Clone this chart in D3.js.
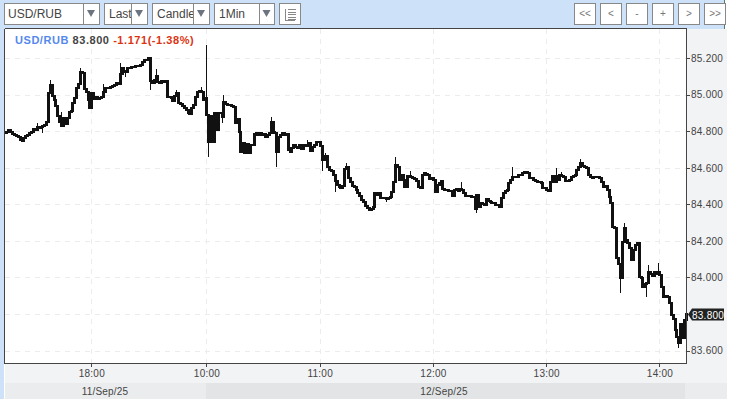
<!DOCTYPE html>
<html><head><meta charset="utf-8">
<script src="https://cdn.jsdelivr.net/npm/d3@7"></script>
<style>html,body{margin:0;padding:0;background:#fff;overflow:hidden}svg{display:block}</style>
</head><body><svg id="c" width="733" height="405"></svg>
<script>
const closes = [
84.795,84.806,84.795,84.784,84.779,84.773,84.768,84.751,84.746,84.762,
84.773,84.779,84.790,84.795,84.812,84.806,84.823,84.817,84.823,84.828,
84.834,84.850,85.009,85.052,84.992,84.970,84.937,84.883,84.850,84.828,
84.872,84.839,84.872,84.905,84.910,84.954,84.981,85.036,85.058,85.123,
85.118,85.030,85.014,84.970,84.926,85.009,84.976,84.987,84.976,84.981,
84.987,85.014,85.036,85.036,85.036,85.041,85.047,85.052,85.063,85.058,
85.112,85.145,85.129,85.123,85.145,85.145,85.151,85.151,85.156,85.156,
85.156,85.162,85.178,85.189,85.189,85.200,85.074,85.063,85.080,85.102,
85.069,85.063,85.074,85.069,85.074,84.987,84.987,84.981,84.965,84.992,
85.009,84.954,84.948,84.937,84.926,84.916,84.899,84.894,84.926,84.943,
84.987,85.014,85.019,85.014,84.970,84.981,
84.888,84.741,84.883,84.741,84.899,84.806,84.899,84.899,84.877,84.959,
84.948,84.943,84.943,84.937,84.932,84.844,84.866,84.795,84.686,84.735,
84.680,84.730,84.680,84.724,84.724,84.784,84.790,84.779,84.790,84.779,
84.784,84.768,84.779,84.790,84.850,84.795,84.790,84.686,84.768,84.779,
84.790,84.779,84.784,84.697,84.686,84.708,84.724,84.713,84.708,84.724,
84.702,84.724,84.719,84.719,84.735,84.691,84.713,84.724,84.741,84.741,
84.719,84.642,84.658,84.664,84.604,84.587,84.582,84.560,84.527,84.505,
84.494,84.489,84.500,84.593,84.604,84.544,84.522,84.500,84.494,84.478,
84.462,84.445,84.423,84.412,84.390,84.380,84.369,84.374,84.385,84.462,
84.451,84.462,84.434,84.434,84.434,84.429,84.434,84.440,84.467,84.522,
84.615,84.604,84.533,84.560,84.533,84.494,84.555,84.555,84.549,84.544,
84.538,84.527,84.494,84.489,84.560,84.571,84.565,84.560,84.538,84.544,
84.533,84.467,84.505,84.516,84.527,84.483,84.478,84.478,84.472,84.472,
84.445,84.478,84.483,84.472,84.483,84.478,84.462,84.445,84.445,84.445,
84.440,84.440,84.374,84.451,84.385,84.407,84.401,84.396,84.429,84.418,
84.412,84.407,84.407,84.396,84.396,84.385,84.434,84.462,84.472,84.478,
84.516,84.533,84.549,84.549,84.549,84.560,84.560,84.571,84.576,84.576,
84.571,84.544,84.544,84.533,84.527,84.522,84.522,84.516,84.489,84.489,
84.478,84.472,84.522,84.555,84.522,84.555,84.533,84.560,84.555,84.549,
84.527,84.527,84.533,84.549,84.555,84.560,84.587,84.604,84.626,84.609,
84.604,84.598,84.560,84.549,84.544,84.549,84.549,84.549,84.544,84.522,
84.494,84.500,84.478,84.440,84.407,84.276,84.270,84.106,84.073,83.997,
84.194,84.270,84.204,84.188,84.161,84.095,84.150,84.177,84.188,84.002,
83.997,83.947,83.964,83.969,84.029,84.018,84.007,84.029,84.018,84.029,
84.013,83.947,83.893,83.898,83.893,83.860,83.794,83.772,83.712,83.674,
83.641,83.745,83.668,83.767,83.800];
const firstOpen = 84.790;
const wickHighBars = [1,16,23,29,39,51,60,79,90,103,106,115,140,159,169,180,206,214,241,268,291,294,304,327,335,340,345,360];
const wickHighVals = [84.812,84.844,85.080,84.905,85.145,85.058,85.173,85.140,85.025,85.041,85.271,84.998,84.877,84.752,84.680,84.626,84.658,84.582,84.522,84.604,84.598,84.576,84.647,84.297,84.030,84.068,84.079,83.827];
const wickLowBars = [19,63,76,107,114,143,167,174,201,210,249,325,339,356];
const wickLowVals = [84.790,85.096,85.025,84.658,84.844,84.604,84.582,84.467,84.412,84.489,84.352,83.914,83.893,83.614];
const priceTicks = [85.2,85.0,84.8,84.6,84.4,84.2,84.0,83.6];
const timeTickBars = [45,106,166,226,286,346];
const timeTickLabels = ["18:00","10:00","11:00","12:00","13:00","14:00"];
const dateLabels = ["11/Sep/25","12/Sep/25"];
const selectLabels = ["USD/RUB","Last","Candle","1Min"];
const navLabels = ["<<","<","-","+",">",">>"];
const lastPrice = 83.800;

const svg = d3.select("#c");
const FONT = "'Liberation Sans',Arial,sans-serif";
const L=5,R=686,T=29,B=363;
const rect=(x,y,w,h,f,s)=>svg.append("rect").attr("x",x).attr("y",y).attr("width",w).attr("height",h).attr("fill",f).attr("stroke",s||"none").attr("shape-rendering","crispEdges");

rect(0,0,725,29,"#cde1f8");
rect(0,29,4,370,"#cde1f8");
rect(724,0,1,29,"#4f7f6a");
rect(5,364,722,19,"#f2f3f5");
rect(687,29,40,335,"#f2f3f5");
rect(5,383,722,16,"#ebecee");
rect(206,383,479,16,"#e3e4e6");
rect(L,T,R-L,B-T,"#fff");

const x=d3.scaleLinear().domain([0,360]).range([6.4,685.9]);
const y=d3.scaleLinear().domain([83.6,85.2]).range([350.5,58]);

// grid
const gridG=svg.append("g").attr("stroke","#ececec").attr("stroke-dasharray","5,5").attr("shape-rendering","crispEdges");
[...priceTicks,lastPrice].forEach(p=>gridG.append("line").attr("x1",L).attr("x2",R).attr("y1",Math.round(y(p))+.5).attr("y2",Math.round(y(p))+.5));
timeTickBars.forEach(b=>gridG.append("line").attr("y1",T).attr("y2",B).attr("x1",Math.round(x(b))+.5).attr("x2",Math.round(x(b))+.5));

// candles
const wh=new Map(wickHighBars.map((b,i)=>[b,wickHighVals[i]]));
const wl=new Map(wickLowBars.map((b,i)=>[b,wickLowVals[i]]));
const bars=closes.map((c,i)=>{const o=i?closes[i-1]:firstOpen;return{i,o,c,h:wh.has(i)?wh.get(i):Math.max(o,c),l:wl.has(i)?wl.get(i):Math.min(o,c)};});
const cg=svg.append("g").attr("shape-rendering","crispEdges");
cg.selectAll("line").data(bars).join("line")
 .attr("x1",d=>Math.round(x(d.i))+.5).attr("x2",d=>Math.round(x(d.i))+.5)
 .attr("y1",d=>y(d.h)).attr("y2",d=>y(d.l)).attr("stroke","#111");
cg.selectAll("rect").data(bars).join("rect")
 .attr("x",d=>Math.round(x(d.i))-1).attr("width",3)
 .attr("y",d=>Math.round(Math.min(y(d.o),y(d.c)))-1)
 .attr("height",d=>Math.max(2,Math.round(Math.abs(y(d.o)-y(d.c)))+2)).attr("fill","#111");

// axes
const yAxis=d3.axisRight(y).tickValues(priceTicks).tickFormat(d3.format(".3f")).tickSize(4).tickSizeOuter(0).tickPadding(1);
const xAxis=d3.axisBottom(x).tickValues(timeTickBars).tickFormat((d,i)=>timeTickLabels[i]).tickSize(4).tickSizeOuter(0).tickPadding(3);
const gy=svg.append("g").attr("transform",`translate(${R},0)`).call(yAxis);
const gx=svg.append("g").attr("transform",`translate(0,${B})`).call(xAxis);
[gy,gx].forEach(g=>{g.selectAll("text").attr("font-family",FONT).attr("font-size",10).attr("letter-spacing",".25").attr("fill","#444");
 g.selectAll("line").attr("stroke","#444").attr("shape-rendering","crispEdges");g.select(".domain").remove();});
gy.selectAll("text").attr("dy",".34em");
const frame=svg.append("g").attr("stroke","#444").attr("shape-rendering","crispEdges");
[[L-.5,T-.5,R+.5,T-.5],[L-.5,B+.5,R+.5,B+.5],[L-.5,T-.5,L-.5,B+.5],[R+.5,T-.5,R+.5,B+.5]].forEach(a=>frame.append("line").attr("x1",a[0]).attr("y1",a[1]).attr("x2",a[2]).attr("y2",a[3]));

// dates
[105,444].forEach((cx,i)=>svg.append("text").attr("x",cx).attr("y",394.5).attr("text-anchor","middle").attr("font-family",FONT).attr("font-size",10).attr("letter-spacing",".2").attr("fill","#444").text(dateLabels[i]));

// last price tag
const ly=Math.round(y(lastPrice));
svg.append("path").attr("d",`M688,${ly+.5} L692,${ly-5.5} L724,${ly-5.5} L724,${ly+6.5} L692,${ly+6.5} Z`).attr("fill","#222");
svg.append("text").attr("x",692).attr("y",ly+4.5).attr("font-family",FONT).attr("font-size",10).attr("letter-spacing",".25").attr("fill","#fff").text(d3.format(".3f")(lastPrice));

// title
const title=svg.append("text").attr("x",15).attr("y",44).attr("font-family",FONT).attr("font-size",11).attr("font-weight","bold").attr("letter-spacing",".55");
title.append("tspan").attr("fill","#5588ee").text("USD/RUB ");
title.append("tspan").attr("fill","#444").text("83.800 ");
title.append("tspan").attr("fill","#dd3311").text("-1.171(-1.38%)");

// toolbar
const sel=[[4,95,79],[104,43,27],[152,57,41],[214,60,45]];
sel.forEach((s,i)=>{
 rect(s[0]+.5,3.5,s[1],21,"#fff","#888");
 svg.append("text").attr("x",s[0]+(i?5:4)).attr("y",18).attr("font-family",FONT).attr("font-size",12).attr("fill","#444").text(selectLabels[i]);
 rect(s[0]+s[2]+.5,3.5,s[1]-s[2],21,"#fff","#888");
 const c=s[0]+s[2]+(s[1]-s[2])/2;
 svg.append("path").attr("d",`M${c-4},10 L${c+4},10 L${c},17 Z`).attr("fill","#6b7480");
});
rect(279.5,3.5,21,21,"#fff","#888");
d3.range(5).forEach(k=>rect(288,9+k*2.5,8,1,"#888"));
rect(285,9,1,12,"#888");rect(285,20,10,1,"#888");
[574,600,626,652,678,704].forEach((bx,i)=>{
 rect(bx+.5,3.5,21,21,"#fff","#888");
 svg.append("text").attr("x",bx+11).attr("y",17).attr("text-anchor","middle").attr("font-family",FONT).attr("font-size",10).attr("fill","#777").text(navLabels[i]);
});
</script></body></html>
